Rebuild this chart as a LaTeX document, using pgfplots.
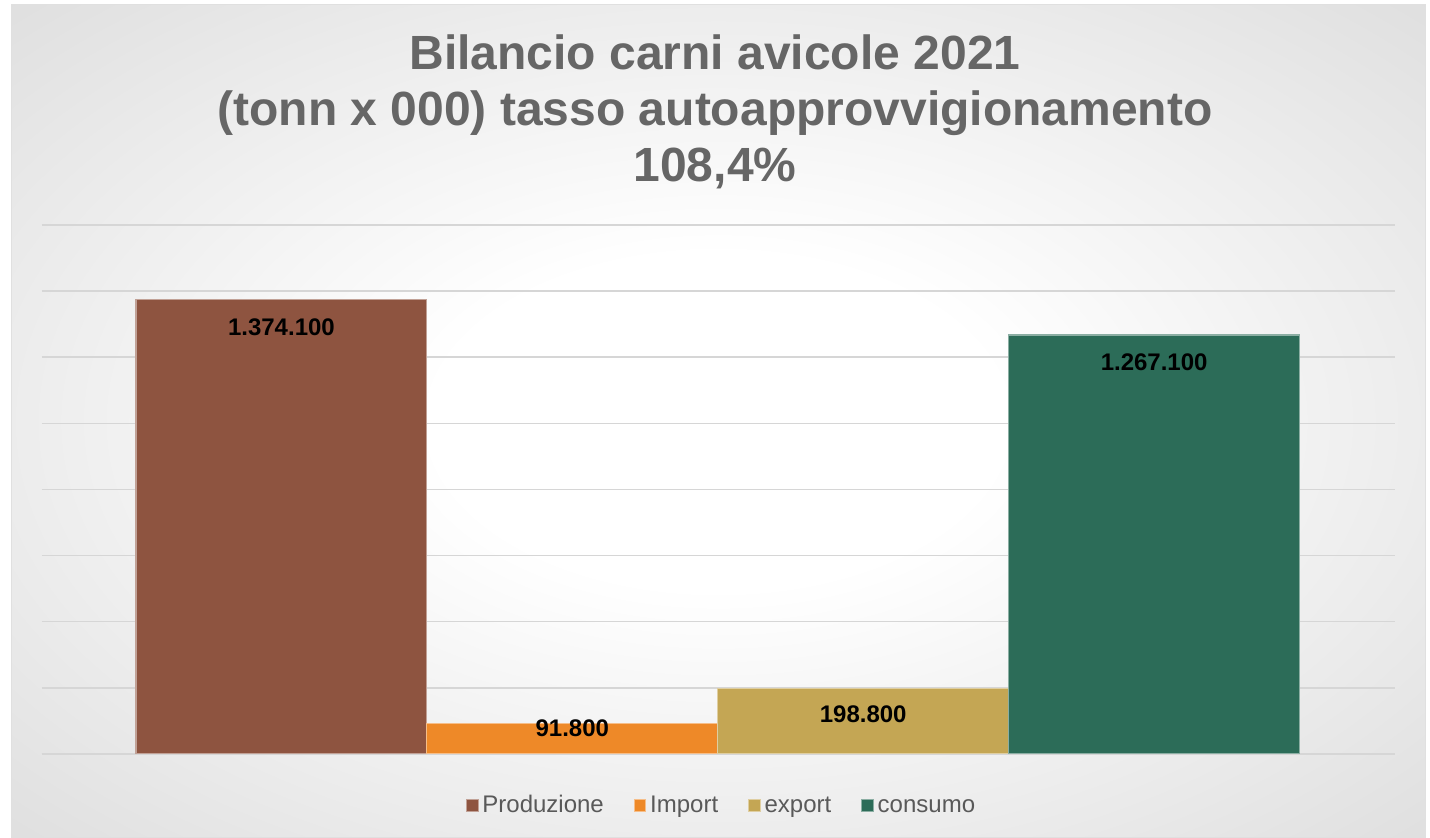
\documentclass[border=0pt]{standalone}
\usepackage{pgfplots}
\pgfplotsset{compat=1.18}
\usepackage{fontspec}
\setmainfont{Liberation Sans}
\definecolor{cprod}{HTML}{8E5440}
\definecolor{cimp}{HTML}{EE8928}
\definecolor{cexp}{HTML}{C4A654}
\definecolor{ccons}{HTML}{2C6C58}
\definecolor{ctitle}{HTML}{666666}
\definecolor{clegend}{HTML}{595959}
\pgfdeclareradialshading{bgshade}{\pgfpoint{0bp}{0bp}}{color(0bp)=(white); color(10bp)=(white); color(55bp)=(black!22); color(72bp)=(black!27)}
\begin{document}
\begin{tikzpicture}[x=1pt,y=1pt]
\path[use as bounding box] (0,0) rectangle (715,419);
\fill[white] (0,0) rectangle (715,419);
\shade[shading=bgshade] (5.5,0) rectangle (712.5,416.5);
\draw[black!12, line width=0.5pt] (5.5,0) rectangle (712.5,416.5);
\node[font=\bfseries\fontsize{24}{28}\selectfont, text=ctitle, align=center] at (357.5,363) {Bilancio carni avicole 2021\\(tonn x 000) tasso autoapprovvigionamento\\108,4\%};
\begin{axis}[
  at={(21pt,42pt)}, anchor=south west,
  scale only axis, width=676.5pt, height=264.5pt,
  ybar, bar width=1, bar shift=0pt,
  xmin=-0.823, xmax=3.828, ymin=0, ymax=1600000,
  xtick=\empty,
  ytick={0,200000,...,1600000}, yticklabels={}, scaled y ticks=false,
  ymajorgrids, major grid style={color=black!16, line width=0.75pt},
  extra y ticks={0}, extra y tick labels={}, extra y tick style={grid style={color=black!32, line width=0.75pt}},
  axis line style={draw=none}, major tick length=0pt,
  nodes near coords,
  nodes near coords style={font=\bfseries\fontsize{12}{14}\selectfont, text=black, anchor=center},
  /pgf/number format/fixed, /pgf/number format/precision=0,
  /pgf/number format/1000 sep={.}, /pgf/number format/assume math mode=true,
  legend columns=4,
  legend style={at={(0.503,-0.099)}, anchor=center, draw=none, fill=none,
    font=\fontsize{12}{14}\selectfont, text=clegend,
    nodes={text height=9pt, text depth=3pt},
    /tikz/every even column/.append style={column sep=13pt}},
  legend image code/.code={\draw[#1, line width=0.4pt] (0pt,-2.4pt) rectangle (5.8pt,3.4pt);},
]
\addplot[fill=cprod, draw=cprod!55!white, line width=0.6pt, every node near coord/.append style={yshift=-14pt}] coordinates {(0,1374100)};
\addlegendentry{Produzione}
\addplot[fill=cimp, draw=cimp!55!white, line width=0.6pt, every node near coord/.append style={yshift=-2.5pt}] coordinates {(1,91800)};
\addlegendentry{Import}
\addplot[fill=cexp, draw=cexp!55!white, line width=0.6pt, every node near coord/.append style={yshift=-13pt}] coordinates {(2,198800)};
\addlegendentry{export}
\addplot[fill=ccons, draw=ccons!55!white, line width=0.6pt, every node near coord/.append style={yshift=-13.5pt}] coordinates {(3,1267100)};
\addlegendentry{consumo}
\end{axis}
\end{tikzpicture}
\end{document}
